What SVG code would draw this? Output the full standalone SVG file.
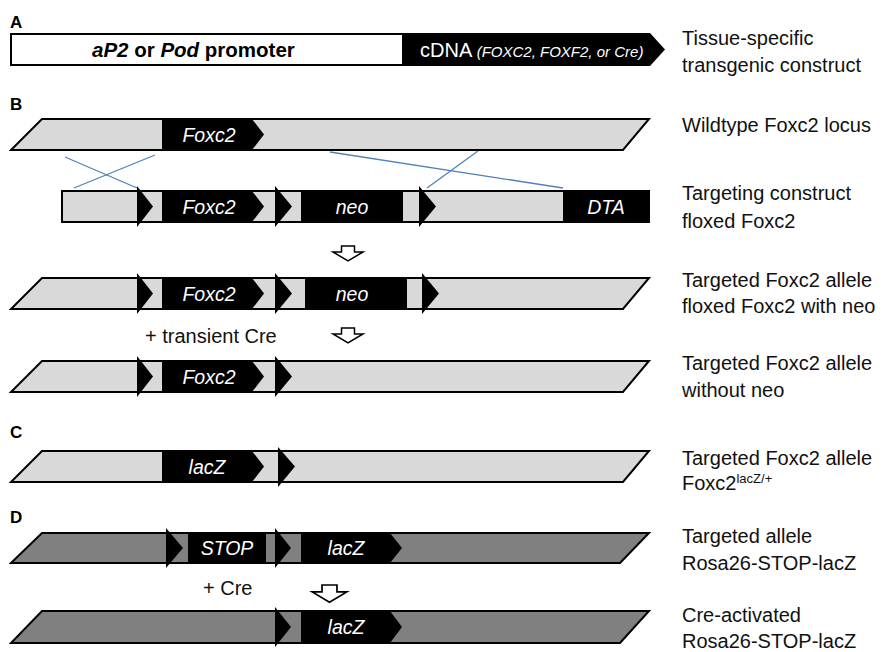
<svg xmlns="http://www.w3.org/2000/svg" width="891" height="652" viewBox="0 0 891 652">
<style>
text{font-family:"Liberation Sans",Arial,sans-serif;}
.lbl{font-size:20px;fill:#111;}
.pl{font-size:17px;font-weight:bold;fill:#000;}
.blk{font-size:19.5px;font-style:italic;fill:#fff;text-anchor:middle;}
.lt{fill:#d9d9d9;stroke:#000;stroke-width:2;stroke-linejoin:miter;}
.dk{fill:#808080;stroke:#000;stroke-width:2;}
.bk{fill:#000;}
.cn{stroke:#4f81bd;stroke-width:1.3;fill:none;}
.da{fill:#fff;stroke:#000;stroke-width:1.5;}
</style>
<defs>
<path id="dn" d="M-6.5,0H6.5V6H15L0,15L-15,6H-6.5Z"/>
</defs>
<rect width="891" height="652" fill="#fff"/>

<!-- A -->
<text class="pl" x="10" y="28">A</text>
<g id="constructA">
<rect x="11" y="34" width="392" height="31" fill="#fff" stroke="#000" stroke-width="2"/>
<polygon class="bk" points="403,33 650,33 665,49.5 650,66 403,66"/>
<text x="92" y="57" font-size="20.5" font-weight="bold"><tspan font-style="italic">aP2</tspan> or <tspan font-style="italic">Pod</tspan>  promoter</text>
<text x="420" y="57" font-size="20" fill="#fff">cDNA <tspan font-size="15" font-style="italic">(FOXC2, FOXF2, or Cre)</tspan></text>
<text class="lbl" x="682" y="45">Tissue-specific</text>
<text class="lbl" x="682" y="72">transgenic construct</text>
</g>

<!-- B -->
<text class="pl" x="10" y="110">B</text>
<g id="wt-locus">
<polygon class="lt" points="42,119 649,119 623,150 11,150"/>
<polygon class="bk" points="162,119 252,119 264,134.5 252,150 162,150"/>
<text class="blk" x="209" y="142">Foxc2</text>
<text class="lbl" x="682" y="132">Wildtype Foxc2 locus</text>
</g>

<g id="connectors">
<line class="cn" x1="65" y1="157" x2="137" y2="188"/>
<line class="cn" x1="155" y1="155" x2="74" y2="188"/>
<line class="cn" x1="330" y1="152" x2="563" y2="188"/>
<line class="cn" x1="478" y1="151" x2="427" y2="188"/>
<use href="#dn" class="da" x="348" y="246"/>
<use href="#dn" class="da" x="348" y="328"/>
<use href="#dn" class="da" transform="translate(329.5,585) scale(1.15)"/>
</g>

<g id="targeting-construct">
<rect class="lt" x="62" y="191" width="587" height="31"/>
<polygon class="bk" points="137,186 153,206.5 137,227"/>
<polygon class="bk" points="162,191 252,191 264,206.5 252,222 162,222"/>
<polygon class="bk" points="275,186 292,206.5 275,227"/>
<rect class="bk" x="301" y="191" width="102" height="31"/>
<polygon class="bk" points="419,186 436,206.5 419,227"/>
<rect class="bk" x="563" y="190" width="87" height="33"/>
<text class="blk" x="209" y="214">Foxc2</text>
<text class="blk" x="352" y="214">neo</text>
<text class="blk" x="606" y="214">DTA</text>
<text class="lbl" x="682" y="200">Targeting construct</text>
<text class="lbl" x="682" y="228">floxed Foxc2</text>
</g>

<g id="targeted-neo">
<polygon class="lt" points="42,278 649,278 623,309 11,309"/>
<polygon class="bk" points="137,273 153,293.5 137,314"/>
<polygon class="bk" points="162,278 252,278 264,293.5 252,309 162,309"/>
<polygon class="bk" points="275,273 292,293.5 275,314"/>
<rect class="bk" x="305" y="278" width="102" height="31"/>
<polygon class="bk" points="422,273 439,293.5 422,314"/>
<text class="blk" x="209" y="301">Foxc2</text>
<text class="blk" x="352" y="301">neo</text>
<text class="lbl" x="682" y="287">Targeted Foxc2 allele</text>
<text class="lbl" x="682" y="313">floxed Foxc2 with neo</text>
</g>

<text id="transient-cre" class="lbl" x="145" y="343" font-size="20.5">+ transient Cre</text>

<g id="targeted-noneo">
<polygon class="lt" points="42,361 649,361 623,392 11,392"/>
<polygon class="bk" points="137,356 153,376.5 137,397"/>
<polygon class="bk" points="162,361 252,361 264,376.5 252,392 162,392"/>
<polygon class="bk" points="275,356 292,376.5 275,397"/>
<text class="blk" x="209" y="384">Foxc2</text>
<text class="lbl" x="682" y="370">Targeted Foxc2 allele</text>
<text class="lbl" x="682" y="397">without neo</text>
</g>

<!-- C -->
<text class="pl" x="10" y="438">C</text>
<g id="lacz-allele">
<polygon class="lt" points="42,451 649,451 623,482 11,482"/>
<polygon class="bk" points="162,451 252,451 264,466.5 252,482 162,482"/>
<polygon class="bk" points="278,447 295,466.5 278,487"/>
<text class="blk" x="207" y="474">lacZ</text>
<text class="lbl" x="682" y="465">Targeted Foxc2 allele</text>
<text class="lbl" x="682" y="490">Foxc2<tspan font-size="13" dy="-7">lacZ/+</tspan></text>
</g>

<!-- D -->
<text class="pl" x="10" y="523">D</text>
<g id="rosa-stop">
<polygon class="dk" points="42,533 649,533 620,563 11,563"/>
<polygon class="bk" points="166,528 183,548 166,568"/>
<rect class="bk" x="188" y="533" width="78" height="30"/>
<polygon class="bk" points="275,528 291,548 275,568"/>
<polygon class="bk" points="301,533 390,533 402,548 390,563 301,563"/>
<text class="blk" x="227" y="555">STOP</text>
<text class="blk" x="346" y="555">lacZ</text>
<text class="lbl" x="682" y="543">Targeted allele</text>
<text class="lbl" x="682" y="570">Rosa26-STOP-lacZ</text>
</g>

<text id="plus-cre" class="lbl" x="203" y="595">+ Cre</text>

<g id="rosa-activated">
<polygon class="dk" points="42,611 649,611 620,643 11,643"/>
<polygon class="bk" points="275,607 291,627 275,647"/>
<polygon class="bk" points="301,611 390,611 402,627 390,643 301,643"/>
<text class="blk" x="346" y="634">lacZ</text>
<text class="lbl" x="682" y="622">Cre-activated</text>
<text class="lbl" x="682" y="648">Rosa26-STOP-lacZ</text>
</g>
</svg>
